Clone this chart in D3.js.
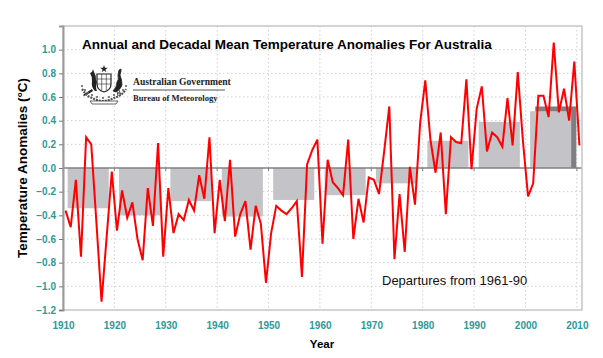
<!DOCTYPE html>
<html>
<head>
<meta charset="utf-8">
<script src="https://cdn.jsdelivr.net/npm/d3@7"></script>
<style>
  body { margin: 0; background: #fff; }
  svg { display: block; font-family: Arial, "Liberation Sans", sans-serif; }
</style>
</head>
<body>
<div id="chart"></div>
<script>
// annual anomalies 1910-2010 (deg C, vs 1961-90)
var years = d3.range(1910, 2011);
var anomalies = [
  -0.36, -0.50, -0.10, -0.75, 0.26, 0.20, -0.46, -1.13, -0.58, -0.03,
  -0.53, -0.19, -0.42, -0.29, -0.60, -0.78, -0.17, -0.49, 0.21, -0.75,
  -0.17, -0.55, -0.39, -0.44, -0.27, -0.36, -0.06, -0.26, 0.26, -0.55,
  -0.10, -0.45, 0.07, -0.58, -0.39, -0.28, -0.69, -0.32, -0.47, -0.97,
  -0.55, -0.32, -0.36, -0.39, -0.34, -0.28, -0.92, 0.03, 0.15, 0.24,
  -0.64, 0.07, -0.12, -0.17, -0.23, 0.24, -0.60, -0.26, -0.46, -0.08,
  -0.10, -0.22, 0.14, 0.52, -0.77, -0.22, -0.71, 0.01, -0.31, 0.38,
  0.74, 0.24, -0.04, 0.30, -0.39, 0.26, 0.22, 0.21, 0.75, -0.01,
  0.50, 0.69, 0.14, 0.30, 0.26, 0.18, 0.59, 0.19, 0.81, 0.23,
  -0.24, -0.13, 0.61, 0.61, 0.43, 1.06, 0.47, 0.67, 0.40, 0.90,
  0.19
];

// decadal means (grey columns)
var decades = [1910, 1920, 1930, 1940, 1950, 1960, 1970, 1980, 1990, 2000];
var decadeMeans = [-0.34, -0.40, -0.28, -0.41, -0.27, -0.23, -0.13, 0.23, 0.39, 0.48];
// the latest 2001-2010 decade, drawn darker behind
var lastDecade = [2001];
var lastDecadeMean = [0.52];

var xTicks = d3.range(1910, 2011, 10);
var yTicks = [-1.2, -1.0, -0.8, -0.6, -0.4, -0.2, 0.0, 0.2, 0.4, 0.6, 0.8, 1.0];

var W = 603, H = 358;
var plot = { left: 63, right: 582, top: 26, bottom: 310 };

var svg = d3.select('#chart').append('svg')
  .attr('width', W)
  .attr('height', H);

var X = d3.scaleLinear().domain([1910, 2011]).range([plot.left, plot.right]);
var Y = d3.scaleLinear().domain([-1.2, 1.2]).range([plot.bottom, plot.top]);

var teal = '#2b9a9a';

// grid
svg.append('g').selectAll('line')
  .data(yTicks.filter(function(d) { return d !== 0 && d !== -1.2; }))
  .enter().append('line')
  .attr('x1', plot.left).attr('x2', plot.right)
  .attr('y1', function(d) { return Y(d); })
  .attr('y2', function(d) { return Y(d); })
  .attr('stroke', '#cfcfcf')
  .attr('stroke-dasharray', '1.5,2.5');

svg.append('g').selectAll('line')
  .data(xTicks.slice(1))
  .enter().append('line')
  .attr('x1', function(d) { return X(d); })
  .attr('x2', function(d) { return X(d); })
  .attr('y1', plot.top).attr('y2', plot.bottom)
  .attr('stroke', '#cfcfcf')
  .attr('stroke-dasharray', '1.5,2.5');

// decadal columns
function drawDecades(starts, means, color) {
  svg.append('g').selectAll('rect')
    .data(starts)
    .enter().append('rect')
    .attr('x', function(d) { return X(d + 0.9); })
    .attr('width', function(d) { return X(d + 8.9) - X(d + 0.9); })
    .attr('y', function(d, i) { return Y(Math.max(0, means[i])); })
    .attr('height', function(d, i) { return Math.abs(Y(means[i]) - Y(0)); })
    .attr('fill', color);
}
drawDecades(lastDecade, lastDecadeMean, '#7f7f7f');
drawDecades(decades, decadeMeans, '#c4c3c7');

// zero line + its little ticks
svg.append('line')
  .attr('x1', plot.left).attr('x2', plot.right)
  .attr('y1', Y(0)).attr('y2', Y(0))
  .attr('stroke', '#808080')
  .attr('stroke-width', 1.5);

svg.append('g').selectAll('line')
  .data(xTicks.slice(1))
  .enter().append('line')
  .attr('x1', function(d) { return X(d); })
  .attr('x2', function(d) { return X(d); })
  .attr('y1', Y(0)).attr('y2', Y(0) + 3)
  .attr('stroke', '#808080');

// frame
svg.append('rect')
  .attr('x', plot.left).attr('y', plot.top)
  .attr('width', plot.right - plot.left)
  .attr('height', plot.bottom - plot.top)
  .attr('fill', 'none')
  .attr('stroke', '#c6c6c6')
  .attr('stroke-width', 1.5);

// annual line, points sit in the middle of each year
var line = d3.line()
  .x(function(d, i) { return X(years[i] + 0.5); })
  .y(function(d) { return Y(d); });

svg.append('path')
  .datum(anomalies)
  .attr('d', line)
  .attr('fill', 'none')
  .attr('stroke', '#ff0000')
  .attr('stroke-width', 2)
  .attr('stroke-linejoin', 'miter');

// y axis
var yAxis = d3.axisLeft(Y)
  .tickValues(yTicks.concat([1.2]).filter(function(d) { return d !== 1.2; }))
  .tickSize(4)
  .tickFormat(d3.format('.1f'));

var gy = svg.append('g')
  .attr('transform', 'translate(' + plot.left + ',0)')
  .call(yAxis);
gy.select('.domain').attr('stroke', '#9a9a9a').attr('stroke-width', 2);
gy.selectAll('.tick line').attr('stroke', '#7a7a7a');
gy.selectAll('.tick text')
  .attr('x', -7)
  .attr('fill', teal)
  .style('font', 'bold 10px Arial, "Liberation Sans", sans-serif');

// x axis labels (ticks live on the zero line)
var xAxis = d3.axisBottom(X)
  .tickValues(xTicks)
  .tickSize(0)
  .tickFormat(d3.format('d'));

var gx = svg.append('g')
  .attr('transform', 'translate(0,' + plot.bottom + ')')
  .call(xAxis);
gx.select('.domain').remove();
gx.selectAll('.tick text')
  .attr('y', 12)
  .attr('fill', teal)
  .style('font', 'bold 10px Arial, "Liberation Sans", sans-serif');

// titles
svg.append('text')
  .attr('x', 82).attr('y', 48.5)
  .style('font', 'bold 13.5px Arial, "Liberation Sans", sans-serif')
  .text('Annual and Decadal Mean Temperature Anomalies For Australia');

svg.append('text')
  .attr('transform', 'translate(27,168) rotate(-90)')
  .attr('text-anchor', 'middle')
  .style('font', 'bold 13.5px Arial, "Liberation Sans", sans-serif')
  .text('Temperature Anomalies (\u00B0C)');

svg.append('text')
  .attr('x', 322).attr('y', 348)
  .attr('text-anchor', 'middle')
  .style('font', 'bold 11.5px Arial, "Liberation Sans", sans-serif')
  .text('Year');

svg.append('text')
  .attr('x', 382).attr('y', 285)
  .style('font', '13px Arial, "Liberation Sans", sans-serif')
  .attr('fill', '#111')
  .text('Departures from 1961-90');

// BoM logo, rough coat of arms + wordmark
function drawLogo(g) {
  var ink = '#222';
  // star
  g.append('path')
    .attr('d', d3.symbol().type(d3.symbolStar).size(18)())
    .attr('transform', 'translate(24,4)')
    .attr('fill', ink);
  // shield
  g.append('path')
    .attr('d', 'M17,9 L31,9 L31,19 Q31,25 24,27 Q17,25 17,19 Z')
    .attr('fill', '#fff').attr('stroke', ink).attr('stroke-width', 1.2);
  g.append('path')
    .attr('d', 'M17,14 L31,14 M17,19 L31,19 M21.7,9 L21.7,25 M26.3,9 L26.3,25')
    .attr('stroke', ink).attr('stroke-width', 0.6);
  // kangaroo
  g.append('path')
    .attr('d', 'M15,26 Q11,22 12,16 Q12,11 10,8 L12,7 L13,4 L14,7 Q16,10 16,15 L17,17 Q15,21 17,26 Z M12,24 Q7,27 3,30 L4,31 Q9,29 13,26 Z')
    .attr('fill', ink);
  // emu
  g.append('path')
    .attr('d', 'M33,26 Q37,22 37,17 Q39,15 38,10 L39,5 L41,4 L41,6 L40,10 Q42,15 42,20 Q41,24 36,27 Z M37,26 L38,31 M39,25 L41,30')
    .attr('fill', ink).attr('stroke', ink).attr('stroke-width', 0.8);
  // wattle spray
  var spray = [[2, 24], [5, 28], [8, 31], [12, 33], [17, 35], [23, 36], [29, 35], [34, 33], [39, 31], [43, 28], [46, 24]];
  g.append('path')
    .attr('d', d3.line().curve(d3.curveCatmullRom)(spray))
    .attr('fill', 'none').attr('stroke', '#555').attr('stroke-width', 2.2)
    .attr('stroke-dasharray', '2,1');
  g.selectAll('circle.w')
    .data(spray)
    .enter().append('circle')
    .attr('class', 'w')
    .attr('cx', function(d) { return d[0]; })
    .attr('cy', function(d) { return d[1] - 3; })
    .attr('r', 1.1)
    .attr('fill', '#666');
  // scroll
  g.append('path')
    .attr('d', 'M10,36 L38,36 L36,39 L12,39 Z')
    .attr('fill', '#fff').attr('stroke', ink).attr('stroke-width', 0.7);
}

var logo = svg.append('g').attr('transform', 'translate(80,65)');
drawLogo(logo);

svg.append('text')
  .attr('x', 133).attr('y', 85)
  .style('font', 'bold 9.6px "Liberation Serif", "DejaVu Serif", serif')
  .attr('fill', '#222')
  .text('Australian Government');

svg.append('line')
  .attr('x1', 133).attr('x2', 225)
  .attr('y1', 90).attr('y2', 90)
  .attr('stroke', '#555').attr('stroke-width', 1);

svg.append('text')
  .attr('x', 133).attr('y', 101)
  .style('font', 'bold 8.6px "Liberation Serif", "DejaVu Serif", serif')
  .attr('fill', '#222')
  .text('Bureau of Meteorology');
</script>
</body>
</html>
